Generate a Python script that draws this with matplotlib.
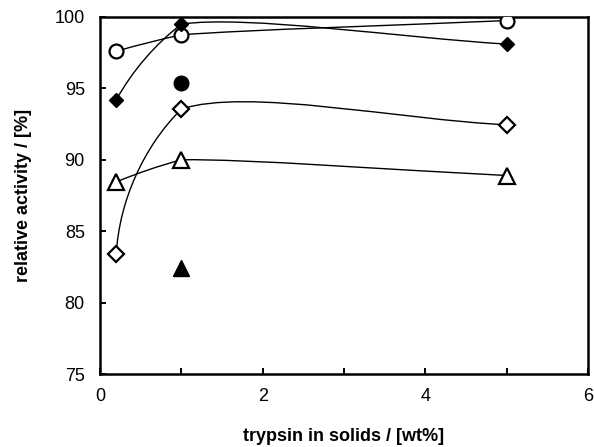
import numpy as np
import matplotlib
matplotlib.use('Agg')
import matplotlib.pyplot as plt
from matplotlib.path import Path
from matplotlib.patches import PathPatch
from matplotlib.ticker import MultipleLocator

plt.rcParams['font.family'] = ['Liberation Sans', 'DejaVu Sans']

# trypsin content of the solids [wt%]
trypsin = [0.2, 1.0, 5.0]
# relative activity [%] per series
open_circle = [97.6, 98.75, 99.75]
filled_diamond = [94.2, 99.5, 98.1]
open_diamond = [83.4, 93.55, 92.45]
open_triangle = [88.45, 90.0, 88.9]
# single points
single_x = [1.0]
filled_circle = [95.4]
filled_triangle = [82.4]


def smooth_line(ax, xs, ys):
    # smoothed connecting line, bezier segments built in screen space
    p = ax.transData.transform(np.column_stack([xs, ys]))
    n = len(p)
    verts = [p[0]]
    for i in range(n - 1):
        a, b = p[i], p[i + 1]
        L = np.hypot(*(b - a))
        if i + 2 < n:
            L1 = np.hypot(*(p[i + 2] - b))
            m = (L1 * (b - a) / L + L * (p[i + 2] - b) / L1) / (L + L1)
            m = m / np.hypot(*m)
            c2 = b - m * L / 3
        else:
            c2 = b - (b - a) / 3
        if i == 0:
            ch = (b - a) / L
            t = (b - c2) / np.hypot(*(b - c2))
            c1 = a + (2 * np.dot(t, ch) * ch - t) * L / 3
        else:
            c1 = a + (p[i + 1] - p[i - 1]) / 6
        verts += [c1, c2, b]
    verts = ax.transData.inverted().transform(np.array(verts))
    codes = [Path.MOVETO] + [Path.CURVE4] * (3 * (n - 1))
    ax.add_patch(PathPatch(Path(verts, codes), fill=False, lw=1.0,
                           edgecolor='black', zorder=2))


fig, ax = plt.subplots(figsize=(5.94, 4.47), dpi=100)
plt.subplots_adjust(left=0.1684, right=0.9899, top=0.962, bottom=0.1633)
ax.set_xlim(0, 6)
ax.set_ylim(75, 100)

for ys in [open_circle, filled_diamond, open_diamond, open_triangle]:
    smooth_line(ax, trypsin, ys)

ax.plot(trypsin, open_circle, ls='none', marker='o', ms=10, mfc='white',
        mec='black', mew=1.6, zorder=3)
ax.plot(trypsin, filled_diamond, ls='none', marker='D', ms=7.5, mfc='black',
        mec='black', mew=1, zorder=3)
ax.plot(trypsin, open_diamond, ls='none', marker='D', ms=8, mfc='white',
        mec='black', mew=1.6, zorder=3)
ax.plot(trypsin, open_triangle, ls='none', marker='^', ms=11.5, mfc='white',
        mec='black', mew=1.6, zorder=3)
ax.plot(single_x, filled_circle, ls='none', marker='o', ms=10.5, mfc='black',
        mec='black', zorder=3)
ax.plot(single_x, filled_triangle, ls='none', marker='^', ms=11, mfc='black',
        mec='black', zorder=3)

ax.xaxis.set_major_locator(MultipleLocator(2))
ax.xaxis.set_minor_locator(MultipleLocator(1))
ax.yaxis.set_major_locator(MultipleLocator(5))
ax.tick_params(which='both', direction='in', width=1.4, length=4)
ax.tick_params(axis='x', which='major', pad=10, labelsize=13)
ax.tick_params(axis='y', which='major', pad=11, labelsize=13)
ax.tick_params(axis='y', which='minor', length=0)

for sp in ax.spines.values():
    sp.set_linewidth(1.8)

ax.set_xlabel('trypsin in solids / [wt%]', fontsize=13, fontweight='bold')
ax.set_ylabel('relative activity / [%]', fontsize=13, fontweight='bold')
ax.xaxis.set_label_coords(0.5, -0.151)
ax.yaxis.set_label_coords(-0.14, 0.5)

fig.savefig('out.png', dpi=100)
